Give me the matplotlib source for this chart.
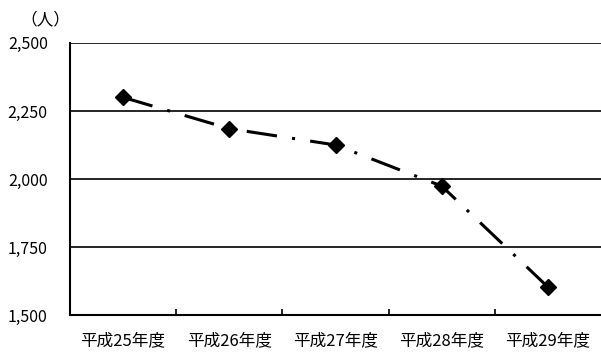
import matplotlib
matplotlib.use("Agg")
import matplotlib.pyplot as plt

plt.rcParams["font.family"] = ["Noto Sans CJK JP", "DejaVu Sans"]

# data
years = ["平成25年度", "平成26年度", "平成27年度", "平成28年度", "平成29年度"]
people = [2300, 2185, 2125, 1974, 1603]
y_ticks = [1500, 1750, 2000, 2250, 2500]

fig = plt.figure(figsize=(6.01, 3.52), dpi=100)
ax = fig.add_axes([0.1165, 0.105, 0.8835, 0.773])

x = list(range(len(years)))
ax.plot(x, people, color="black", lw=2.2, dashes=(10, 5, 1, 5),
        marker="D", markersize=8, markerfacecolor="black",
        markeredgecolor="black", zorder=3)

ax.set_xlim(-0.5, len(years) - 0.5)
ax.set_ylim(1500, 2500)
ax.set_yticks(y_ticks)
ax.set_yticklabels(["{:,}".format(v) for v in y_ticks], fontsize=11.5)
ax.yaxis.grid(True, color="black", lw=1.2)
ax.set_axisbelow(True)
ax.tick_params(axis="y", length=0, pad=16)

ax.set_xticks(x)
ax.set_xticklabels(years, fontsize=12)
ax.tick_params(axis="x", which="major", length=0, pad=12)
ax.set_xticks([i + 0.5 for i in x[:-1]], minor=True)
ax.tick_params(axis="x", which="minor", direction="in", length=4, width=1.2)

for s in ["top", "right"]:
    ax.spines[s].set_visible(False)
for s in ["left", "bottom"]:
    ax.spines[s].set_linewidth(1.5)

fig.text(0.075, 0.945, "（人）", fontsize=12, ha="center", va="center")

fig.savefig("out.png", dpi=100)
